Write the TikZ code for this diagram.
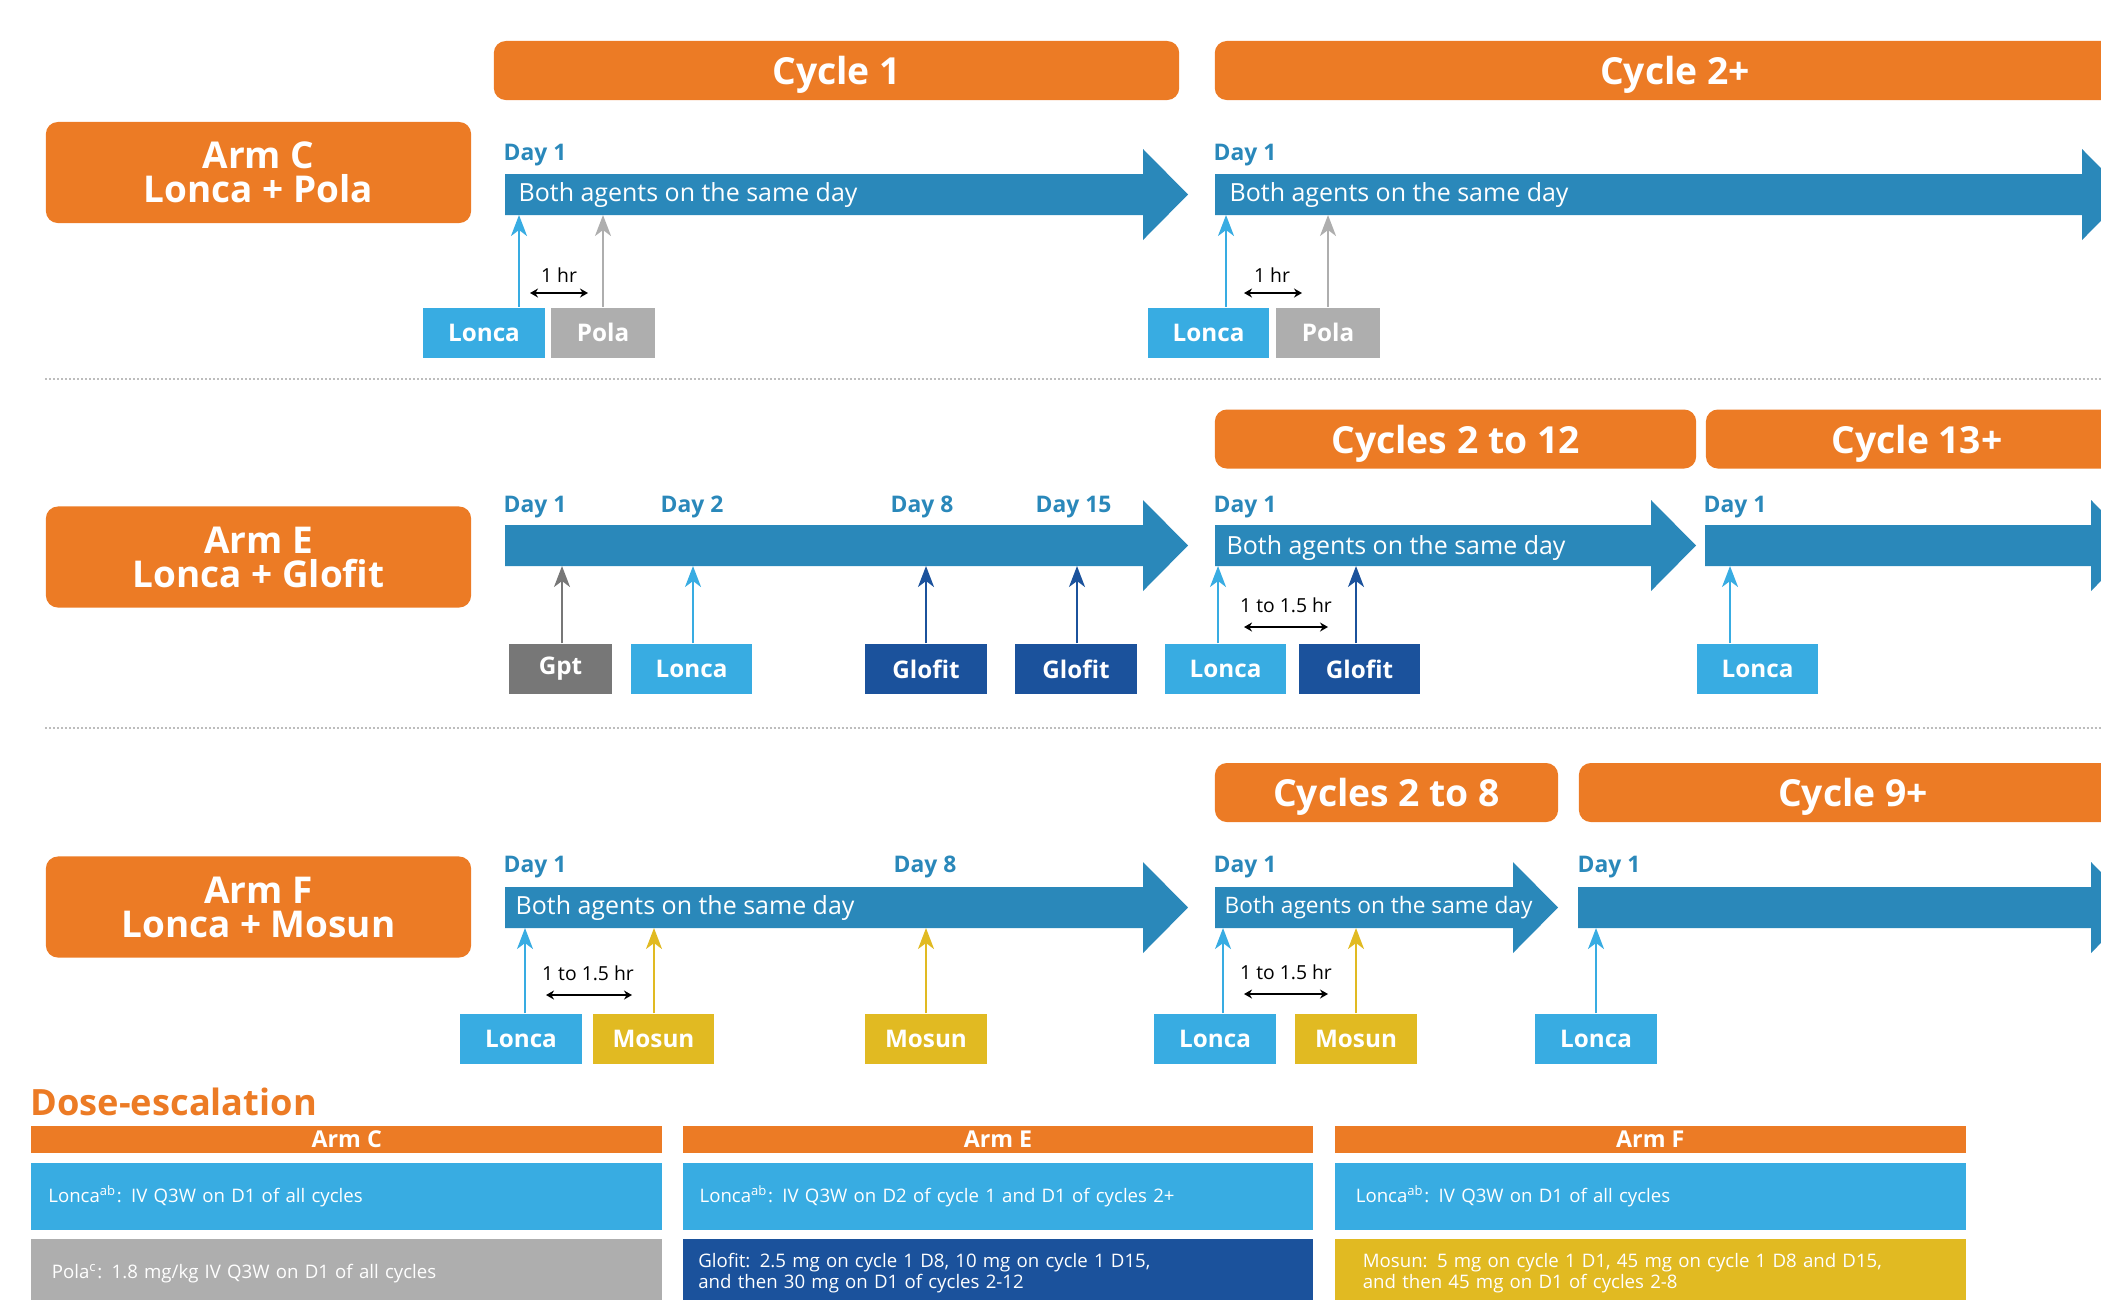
\documentclass[tikz,border=0pt]{standalone}
\usepackage{fontspec}
\setmainfont{Open Sans}
\usetikzlibrary{positioning,arrows.meta}

\definecolor{armorange}{HTML}{EC7B25}
\definecolor{tlblue}{HTML}{2A88BA}
\definecolor{lonca}{HTML}{38ACE2}
\definecolor{pola}{HTML}{AEAEAE}
\definecolor{gpt}{HTML}{777777}
\definecolor{glofit}{HTML}{1B529C}
\definecolor{mosun}{HTML}{E1BA22}
\definecolor{sepgray}{HTML}{BDBDBD}

% timeline arrow: start x, tip x, y of shaft centre
\newcommand{\tlarrow}[3]{\fill[tlblue] (#1,{#3-20.5}) -- ({#2-45},{#3-20.5}) -- ({#2-45},{#3-45.5}) -- (#2,#3) -- ({#2-45},{#3+45.5}) -- ({#2-45},{#3+20.5}) -- (#1,{#3+20.5}) -- cycle;}

\tikzset{
  arm/.style={fill=armorange, text=white, rounded corners=0.12cm, minimum width=4.25cm, minimum height=1.01cm, align=center, font=\fontsize{10.5}{9.7}\selectfont\bfseries},
  cyc/.style={fill=armorange, text=white, rounded corners=0.12cm, minimum height=0.59cm, inner sep=0pt, text depth=0pt, font=\fontsize{10.6}{12}\selectfont\bfseries},
  day/.style={anchor=base west, inner sep=0pt, text=tlblue, font=\fontsize{6.5}{8}\selectfont\bfseries},
  both/.style={anchor=base west, inner sep=0pt, text=white, font=\fontsize{7.1}{8}\selectfont},
  drug/.style={text=white, minimum height=0.5cm, inner sep=0pt, font=\fontsize{6.9}{8}\selectfont\bfseries},
  dose/.style={line width=0.02cm, -{Stealth[length=0.21cm,width=0.16cm,inset=0.06cm]}},
  gap/.style={line width=0.015cm, {Stealth[length=0.08cm,width=0.09cm]}-{Stealth[length=0.08cm,width=0.09cm]}},
  hr/.style={inner sep=0pt, font=\fontsize{5.5}{6}\selectfont},
  sepline/.style={sepgray, line width=0.025cm, dash pattern=on 0.02cm off 0.02cm},
  head/.style={fill=armorange, text=white, minimum width=6.305cm, minimum height=0.27cm, inner sep=0pt, font=\fontsize{6.6}{7}\selectfont\bfseries},
  cell/.style={text=white, text width=5.965cm, inner xsep=0.17cm, inner ysep=0pt, align=left, font=\fontsize{5.3}{6}\selectfont}
}

\begin{document}
\begin{tikzpicture}[x=0.01cm, y=-0.01cm]
\useasboundingbox (0,0) rectangle (2101,1299);

% arm C
\node (armC) [arm] at (258.5,172.5) {Arm C\\Lonca + Pola};
\node (cycC1) [cyc, minimum width=6.85cm] at (836.5,70.5) {Cycle 1};
\node (cycC2) [cyc, minimum width=9.2cm] at (1675,70.5) {Cycle 2+};
\tlarrow{505}{1188}{194.5}
\tlarrow{1215}{2127}{194.5}
\node (dayC1) [day] at (503,160.5) {Day 1};
\node (dayC2) [day] at (1213,160.5) {Day 1};
\node (bothC1) [both] at (518,201) {Both agents on the same day};
\node (bothC2) [both] at (1229,201) {Both agents on the same day};
\node (lonC1) [drug, fill=lonca, minimum width=1.22cm] at (484,332.5) {Lonca};
\node (polC1) [drug, fill=pola, minimum width=1.04cm] at (603,332.5) {Pola};
\node (lonC2) [drug, fill=lonca, minimum width=1.21cm] at (1208.5,332.5) {Lonca};
\node (polC2) [drug, fill=pola, minimum width=1.04cm] at (1328,332.5) {Pola};
\path (519,215) coordinate (dC1) (603,215) coordinate (dC2)
      (1226,215) coordinate (dC3) (1328,215) coordinate (dC4);
\draw[dose, lonca] (lonC1.north -| dC1) -- (dC1);
\draw[dose, pola] (polC1.north -| dC2) -- (dC2);
\draw[dose, lonca] (lonC2.north -| dC3) -- (dC3);
\draw[dose, pola] (polC2.north -| dC4) -- (dC4);
\node (hrC1) [hr] at (559,275) {1 hr};
\node (hrC2) [hr] at (1272,275) {1 hr};
\path (530,293) coordinate (gC1a) (588,293) coordinate (gC1b)
      (1244,293) coordinate (gC2a) (1302,293) coordinate (gC2b);
\draw[gap] (gC1a) -- (gC1b);
\draw[gap] (gC2a) -- (gC2b);

\draw[sepline] (45,379) -- (2101,379);

% arm E
\node (armE) [arm] at (258.5,557) {Arm E\\Lonca + Glofit};
\node (cycE2) [cyc, minimum width=4.81cm] at (1455.5,439) {Cycles 2 to 12};
\node (cycE3) [cyc, minimum width=4.22cm] at (1917,439) {Cycle 13+};
\tlarrow{505}{1188}{545.5}
\tlarrow{1215}{1696}{545.5}
\tlarrow{1705}{2136}{545.5}
\node (dayE1) [day] at (503,512) {Day 1};
\node (dayE2) [day] at (660,512) {Day 2};
\node (dayE3) [day] at (890,512) {Day 8};
\node (dayE4) [day] at (1035,512) {Day 15};
\node (dayE5) [day] at (1213,512) {Day 1};
\node (dayE6) [day] at (1703,512) {Day 1};
\node (bothE) [both] at (1226,554) {Both agents on the same day};
\node (gptE1) [drug, fill=gpt, minimum width=1.03cm] at (560.5,669) {Gpt};
\node (lonE1) [drug, fill=lonca, minimum width=1.21cm] at (691.5,669) {Lonca};
\node (glofE1) [drug, fill=glofit, minimum width=1.22cm] at (926,669) {Glofit};
\node (glofE2) [drug, fill=glofit, minimum width=1.22cm] at (1076,669) {Glofit};
\node (lonE2) [drug, fill=lonca, minimum width=1.21cm] at (1225.5,669) {Lonca};
\node (glofE3) [drug, fill=glofit, minimum width=1.21cm] at (1359.5,669) {Glofit};
\node (lonE3) [drug, fill=lonca, minimum width=1.21cm] at (1757.5,669) {Lonca};
\path (562,566) coordinate (dE1) (693,566) coordinate (dE2) (926,566) coordinate (dE3)
      (1077,566) coordinate (dE4) (1218,566) coordinate (dE5) (1356,566) coordinate (dE6)
      (1730,566) coordinate (dE7);
\draw[dose, gpt] (gptE1.north -| dE1) -- (dE1);
\draw[dose, lonca] (lonE1.north -| dE2) -- (dE2);
\draw[dose, glofit] (glofE1.north -| dE3) -- (dE3);
\draw[dose, glofit] (glofE2.north -| dE4) -- (dE4);
\draw[dose, lonca] (lonE2.north -| dE5) -- (dE5);
\draw[dose, glofit] (glofE3.north -| dE6) -- (dE6);
\draw[dose, lonca] (lonE3.north -| dE7) -- (dE7);
\node (hrE) [hr] at (1286,605) {1 to 1.5 hr};
\path (1244,627) coordinate (gEa) (1328,627) coordinate (gEb);
\draw[gap] (gEa) -- (gEb);

\draw[sepline] (45,728) -- (2101,728);

% arm F
\node (armF) [arm] at (258.5,907) {Arm F\\Lonca + Mosun};
\node (cycF2) [cyc, minimum width=3.43cm] at (1386.5,792.5) {Cycles 2 to 8};
\node (cycF3) [cyc, minimum width=5.48cm] at (1853,792.5) {Cycle 9+};
\tlarrow{505}{1188}{907.5}
\tlarrow{1215}{1558}{907.5}
\tlarrow{1578}{2136}{907.5}
\node (dayF1) [day] at (503,872) {Day 1};
\node (dayF2) [day] at (893,872) {Day 8};
\node (dayF3) [day] at (1213,872) {Day 1};
\node (dayF4) [day] at (1577,872) {Day 1};
\node (bothF1) [both] at (515,914) {Both agents on the same day};
\node (bothF2) [both, font=\fontsize{6.45}{8}\selectfont] at (1224,913) {Both agents on the same day};
\node (lonF1) [drug, fill=lonca, minimum width=1.22cm] at (521,1039) {Lonca};
\node (mosF1) [drug, fill=mosun, minimum width=1.21cm] at (653.5,1039) {Mosun};
\node (mosF2) [drug, fill=mosun, minimum width=1.22cm] at (926,1039) {Mosun};
\node (lonF2) [drug, fill=lonca, minimum width=1.22cm] at (1215,1039) {Lonca};
\node (mosF3) [drug, fill=mosun, minimum width=1.22cm] at (1356,1039) {Mosun};
\node (lonF3) [drug, fill=lonca, minimum width=1.22cm] at (1596,1039) {Lonca};
\path (525,928) coordinate (dF1) (654,928) coordinate (dF2) (926,928) coordinate (dF3)
      (1223,928) coordinate (dF4) (1356,928) coordinate (dF5) (1596,928) coordinate (dF6);
\draw[dose, lonca] (lonF1.north -| dF1) -- (dF1);
\draw[dose, mosun] (mosF1.north -| dF2) -- (dF2);
\draw[dose, mosun] (mosF2.north -| dF3) -- (dF3);
\draw[dose, lonca] (lonF2.north -| dF4) -- (dF4);
\draw[dose, mosun] (mosF3.north -| dF5) -- (dF5);
\draw[dose, lonca] (lonF3.north -| dF6) -- (dF6);
\node (hrF1) [hr] at (588,973) {1 to 1.5 hr};
\node (hrF2) [hr] at (1286,972) {1 to 1.5 hr};
\path (546,995) coordinate (gF1a) (632,995) coordinate (gF1b)
      (1244,994) coordinate (gF2a) (1328,994) coordinate (gF2b);
\draw[gap] (gF1a) -- (gF1b);
\draw[gap] (gF2a) -- (gF2b);

% dose-escalation table
\node (dose) [anchor=base west, inner sep=0pt, text=armorange, font=\fontsize{10.3}{11}\selectfont\bfseries] at (30,1115) {Dose-escalation};
\node (headC) [head] at (346.75,1139.5) {Arm C};
\node (headE) [head] at (998,1139.5) {Arm E};
\node (headF) [head] at (1650.25,1139.5) {Arm F};
\node (lcaC) [cell, fill=lonca, minimum height=0.67cm] at (346.75,1196.5) {Lonca\textsuperscript{ab}: IV Q3W on D1 of all cycles};
\node (lcaE) [cell, fill=lonca, minimum height=0.67cm] at (998,1196.5) {Lonca\textsuperscript{ab}: IV Q3W on D2 of cycle 1 and D1 of cycles 2+};
\node (lcaF) [cell, fill=lonca, minimum height=0.67cm, inner xsep=0.21cm, text width=5.885cm] at (1650.25,1196.5) {Lonca\textsuperscript{ab}: IV Q3W on D1 of all cycles};
\node (polaC) [cell, fill=pola, minimum height=0.69cm, inner xsep=0.205cm, text width=5.895cm] at (346.75,1273.5) {Pola\textsuperscript{c}: 1.8 mg/kg IV Q3W on D1 of all cycles};
\node (glofC) [cell, fill=glofit, minimum height=0.69cm, inner xsep=0.155cm, text width=5.99cm] at (998,1273.5) {Glofit: 2.5 mg on cycle 1 D8, 10 mg on cycle 1 D15,\\and then 30 mg on D1 of cycles 2-12};
\node (mosC) [cell, fill=mosun, minimum height=0.69cm, inner xsep=0.28cm, text width=5.745cm] at (1650.25,1273.5) {Mosun: 5 mg on cycle 1 D1, 45 mg on cycle 1 D8 and D15,\\and then 45 mg on D1 of cycles 2-8};
\end{tikzpicture}
\end{document}
